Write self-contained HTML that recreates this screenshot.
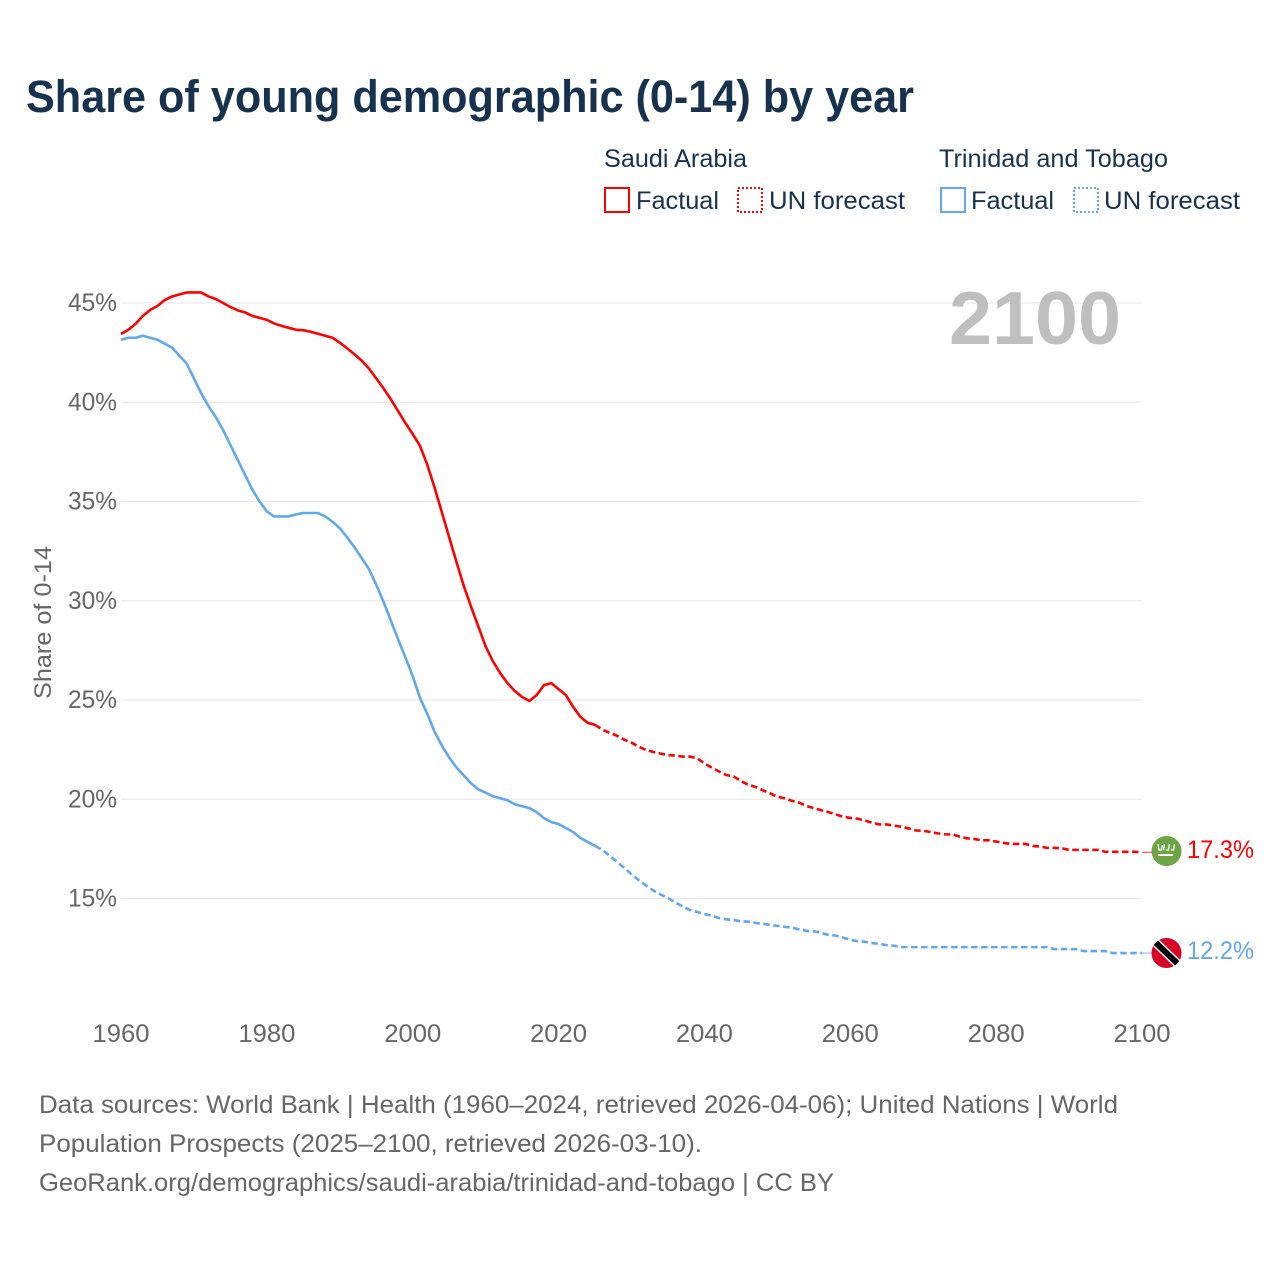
<!DOCTYPE html>
<html lang="en">
<head>
<meta charset="utf-8">
<title>Share of young demographic (0-14) by year</title>
<style>
html,body{margin:0;padding:0;background:#fff;}
svg{display:block;font-family:"Liberation Sans",sans-serif;}
</style>
</head>
<body>
<svg id="chart" width="1280" height="1280" viewBox="0 0 1280 1280" xmlns="http://www.w3.org/2000/svg">
  <rect x="0" y="0" width="1280" height="1280" fill="#ffffff"/>
  <text x="26" y="112" font-size="45" font-weight="700" fill="#17324f" textLength="888" lengthAdjust="spacingAndGlyphs">Share of young demographic (0-14) by year</text>

  <g font-size="25" fill="#17324f">
    <text x="604" y="167" textLength="143" lengthAdjust="spacingAndGlyphs">Saudi Arabia</text>
    <text x="939" y="167" textLength="229" lengthAdjust="spacingAndGlyphs">Trinidad and Tobago</text>
    <rect x="605" y="188" width="24" height="24" fill="none" stroke="#ff0000" stroke-width="2"/>
    <text x="636" y="209" textLength="83" lengthAdjust="spacingAndGlyphs">Factual</text>
    <rect x="738" y="188" width="24" height="24" fill="none" stroke="#ff0000" stroke-width="2" stroke-dasharray="2 2"/>
    <text x="769" y="209" textLength="136" lengthAdjust="spacingAndGlyphs">UN forecast</text>
    <rect x="941" y="188" width="24" height="24" fill="none" stroke="#60a8ee" stroke-width="2"/>
    <text x="971" y="209" textLength="83" lengthAdjust="spacingAndGlyphs">Factual</text>
    <rect x="1074" y="188" width="24" height="24" fill="none" stroke="#60a8ee" stroke-width="2" stroke-dasharray="2 2"/>
    <text x="1104" y="209" textLength="136" lengthAdjust="spacingAndGlyphs">UN forecast</text>
  </g>

  <g id="grid"></g>
  <text x="949" y="344" font-size="75" font-weight="700" fill="#bfbfbf" textLength="172" lengthAdjust="spacingAndGlyphs">2100</text>
  <g id="yAxis"></g>
  <g id="xAxis"></g>
  <text transform="translate(51 622.5) rotate(-90)" text-anchor="middle" font-size="24" fill="#666666" textLength="153" lengthAdjust="spacingAndGlyphs">Share of 0-14</text>
  <g id="series"></g>

  <g>
    <circle cx="1166.5" cy="851" r="15" fill="#6da544"/>
    <path d="M1158 844l1 6h2.500l1-5M1163.500 850l1-6M1166 850h2.500l1-6M1171 850h2.500l1-6" fill="none" stroke="#ffffff" stroke-width="1.300"/>
    <path d="M1158 855h11M1169 855h4" fill="none" stroke="#ffffff" stroke-width="2"/>
  </g>
  <g>
    <clipPath id="ttClip"><circle cx="1166.5" cy="953" r="15"/></clipPath>
    <circle cx="1166.5" cy="953" r="15" fill="#d80027"/>
    <g clip-path="url(#ttClip)">
      <line x1="1153" y1="940" x2="1180" y2="966" stroke="#ffffff" stroke-width="9"/>
      <line x1="1153" y1="940" x2="1180" y2="966" stroke="#000000" stroke-width="6"/>
    </g>
  </g>
  <text id="labelSaudi" x="1187" y="858" font-size="25" fill="#ff0000" textLength="67" lengthAdjust="spacingAndGlyphs">17.3%</text>
  <text id="labelTrinidad" x="1187" y="959" font-size="25" fill="#60a8ee" textLength="67" lengthAdjust="spacingAndGlyphs">12.2%</text>

  <g font-size="25" fill="#666666">
    <text x="39" y="1113" textLength="1079" lengthAdjust="spacingAndGlyphs">Data sources: World Bank | Health (1960–2024, retrieved 2026-04-06); United Nations | World</text>
    <text x="39" y="1152" textLength="663" lengthAdjust="spacingAndGlyphs">Population Prospects (2025–2100, retrieved 2026-03-10).</text>
    <text x="39" y="1191" textLength="795" lengthAdjust="spacingAndGlyphs">GeoRank.org/demographics/saudi-arabia/trinidad-and-tobago | CC BY</text>
  </g>
</svg>
<script>
var xTickYears = [1960, 1980, 2000, 2020, 2040, 2060, 2080, 2100];
var yTickValues = [15, 20, 25, 30, 35, 40, 45];
var factualStartYear = 1960;
var forecastStartYear = 2025;
var saudiFactual = [
  43.44,43.65,43.95,44.35,44.65,44.85,45.15,45.33,45.43,45.53,
  45.53,45.53,45.33,45.2,45.0,44.8,44.63,44.53,44.35,44.25,
  44.15,43.97,43.85,43.75,43.65,43.63,43.55,43.45,43.35,43.25,
  43.0,42.72,42.42,42.1,41.7,41.2,40.7,40.15,39.55,38.95,
  38.4,37.8,36.85,35.7,34.45,33.2,31.95,30.75,29.7,28.7,
  27.7,26.95,26.35,25.85,25.45,25.15,24.95,25.25,25.75,25.85,
  25.55,25.25,24.65,24.15,23.85,23.75
];
var saudiForecast = [
  23.75,23.5,23.35,23.2,23.0,
  22.85,22.65,22.48,22.38,22.3,22.23,22.2,22.15,22.15,22.07,
  21.8,21.6,21.4,21.22,21.15,20.92,20.73,20.62,20.45,20.3,
  20.13,20.05,19.92,19.83,19.66,19.55,19.45,19.35,19.24,19.12,
  19.06,19.02,18.92,18.82,18.73,18.73,18.67,18.62,18.53,18.43,
  18.41,18.35,18.28,18.23,18.23,18.12,18.03,18.0,17.93,17.93,
  17.87,17.8,17.75,17.75,17.75,17.65,17.62,17.55,17.55,17.53,
  17.45,17.45,17.45,17.45,17.45,17.35,17.35,17.35,17.35,17.35,17.33
];
var trinidadFactual = [
  43.15,43.25,43.25,43.35,43.25,43.15,42.95,42.75,42.35,41.95,
  41.2,40.45,39.8,39.25,38.6,37.85,37.1,36.35,35.6,35.0,
  34.5,34.25,34.25,34.25,34.35,34.42,34.42,34.42,34.25,33.98,
  33.65,33.2,32.7,32.15,31.6,30.8,29.95,29.0,28.05,27.15,
  26.2,25.1,24.3,23.4,22.7,22.1,21.6,21.2,20.8,20.5,
  20.33,20.15,20.05,19.95,19.75,19.65,19.55,19.35,19.05,18.85,
  18.75,18.55,18.35,18.05,17.85,17.65
];
var trinidadForecast = [
  17.65,17.45,17.15,16.85,16.55,
  16.22,15.92,15.65,15.4,15.2,15.02,14.8,14.6,14.42,14.32,
  14.22,14.13,14.02,13.95,13.92,13.85,13.83,13.77,13.73,13.67,
  13.62,13.57,13.53,13.45,13.37,13.35,13.27,13.17,13.13,13.03,
  12.92,12.85,12.82,12.75,12.72,12.65,12.62,12.55,12.55,12.55,
  12.55,12.55,12.55,12.55,12.55,12.55,12.55,12.55,12.55,12.55,
  12.55,12.55,12.55,12.55,12.55,12.55,12.55,12.55,12.45,12.45,
  12.45,12.45,12.35,12.35,12.35,12.35,12.25,12.25,12.25,12.25,12.25
];

var SVG_NS = 'http://www.w3.org/2000/svg';
var RED = '#ff0000';
var BLUE = '#60a8ee';
function xScale(year) { return 121 + (year - 1960) * (1142 - 121) / 140; }
function yScale(value) { return 898.5 - (value - 15) * (898.5 - 303) / 30; }
function linePath(values, startYear) {
  var d = '';
  for (var i = 0; i < values.length; i++) {
    d += (i ? 'L' : 'M') + xScale(startYear + i).toFixed(2) + ' ' + yScale(values[i]).toFixed(2);
  }
  return d;
}

var gridGroup = document.getElementById('grid');
var yAxisGroup = document.getElementById('yAxis');
var xAxisGroup = document.getElementById('xAxis');
var seriesGroup = document.getElementById('series');

yTickValues.forEach(function (v) {
  var line = document.createElementNS(SVG_NS, 'line');
  
  
  line.setAttribute('x1', 121);
  line.setAttribute('x2', 1142);
  line.setAttribute('y1', yScale(v));
  line.setAttribute('y2', yScale(v));
  line.setAttribute('stroke', '#e9e9e9');
  line.setAttribute('stroke-width', '1.300');
  gridGroup.appendChild(line);

  var label = document.createElementNS(SVG_NS, 'text');
  
  
  label.setAttribute('x', 68);
  label.setAttribute('y', yScale(v) + 8);
  label.setAttribute('font-size', '25');
  label.setAttribute('fill', '#666666');
  label.setAttribute('textLength', '49');
  label.setAttribute('lengthAdjust', 'spacingAndGlyphs');
  label.textContent = v + '%';
  yAxisGroup.appendChild(label);
});

xTickYears.forEach(function (year) {
  var label = document.createElementNS(SVG_NS, 'text');
  
  
  label.setAttribute('x', xScale(year) - 28.5);
  label.setAttribute('y', 1042);
  label.setAttribute('font-size', '25');
  label.setAttribute('fill', '#666666');
  label.setAttribute('textLength', '57');
  label.setAttribute('lengthAdjust', 'spacingAndGlyphs');
  label.textContent = year;
  xAxisGroup.appendChild(label);
});

function drawLine(values, startYear, color, dashed) {
  var path = document.createElementNS(SVG_NS, 'path');
  path.setAttribute('d', linePath(values, startYear));
  path.setAttribute('fill', 'none');
  path.setAttribute('stroke', color);
  path.setAttribute('stroke-width', '2.600');
  path.setAttribute('stroke-linejoin', 'round');
  if (dashed) {
    path.setAttribute('stroke-dasharray', '6.500 3.500');
  }
  seriesGroup.appendChild(path);
  return path;
}
function drawConnector(values, color) {
  var y = yScale(values[values.length - 1]);
  var connector = document.createElementNS(SVG_NS, 'line');
  connector.setAttribute('x1', 1142);
  connector.setAttribute('x2', 1152);
  connector.setAttribute('y1', y);
  connector.setAttribute('y2', y);
  connector.setAttribute('stroke', color);
  connector.setAttribute('stroke-width', '1');
  connector.setAttribute('opacity', '0.800');
  seriesGroup.appendChild(connector);
  return connector;
}

var saudiFactualLine = drawLine(saudiFactual, factualStartYear, RED, false);


var saudiForecastLine = drawLine(saudiForecast, forecastStartYear, RED, true);


var trinidadFactualLine = drawLine(trinidadFactual, factualStartYear, BLUE, false);


var trinidadForecastLine = drawLine(trinidadForecast, forecastStartYear, BLUE, true);


var saudiConnector = drawConnector(saudiForecast, RED);


var trinidadConnector = drawConnector(trinidadForecast, BLUE);


</script>
</body>
</html>
